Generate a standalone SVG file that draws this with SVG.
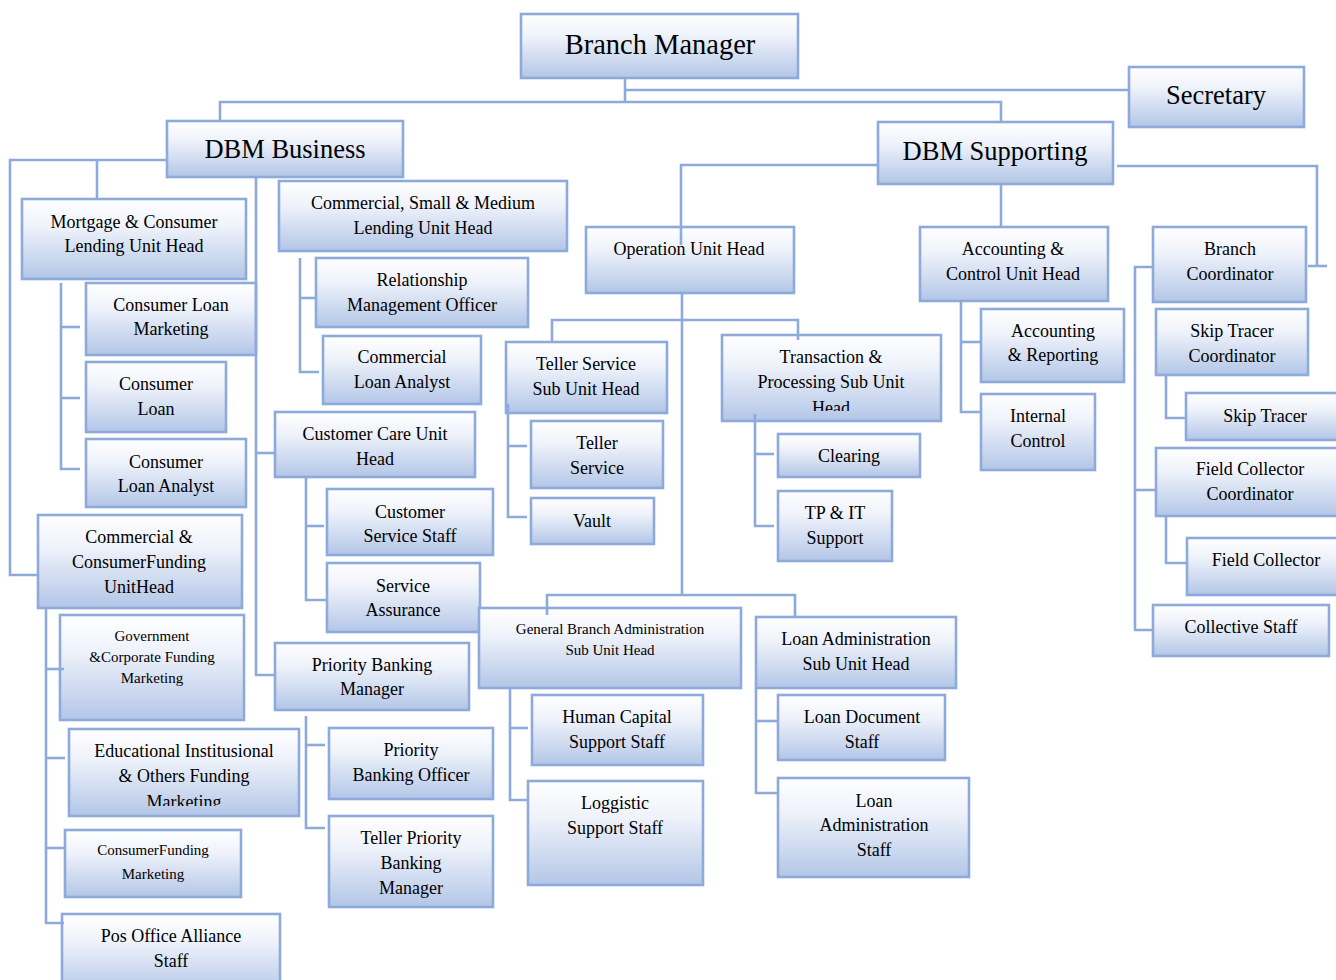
<svg xmlns="http://www.w3.org/2000/svg" width="1336" height="980" viewBox="0 0 1336 980">
<defs>
<linearGradient id="g" x1="0" y1="0" x2="0" y2="1">
<stop offset="0" stop-color="#ffffff"/>
<stop offset="0.35" stop-color="#eef2fa"/>
<stop offset="1" stop-color="#b3c6e7"/>
</linearGradient>
<clipPath id="clipTps"><rect x="722" y="335" width="219" height="76"/></clipPath>
<clipPath id="clipEif"><rect x="69" y="729" width="230" height="77"/></clipPath>
</defs>
<style>
.n rect{fill:url(#g);stroke:#8eaadb;stroke-width:2.6}
.n text{font-family:"Liberation Serif","Times New Roman",serif;font-size:18px;fill:#000;text-anchor:middle;dominant-baseline:central}
.n text.big{font-size:26.5px}
.n text.bm{font-size:28.5px}
.n text.sm{font-size:15px}
#connectors path{fill:none;stroke:#8eaadb;stroke-width:2.6}
</style>
<rect width="1336" height="980" fill="#ffffff"/>

<g id="bm" class="n"><rect x="521" y="14" width="277" height="64"/><text class="bm" x="660" y="44">Branch Manager</text></g>
<g id="sec" class="n"><rect x="1129" y="67" width="175" height="60"/><text class="big" x="1216" y="95">Secretary</text></g>
<g id="dbmb" class="n"><rect x="167" y="121" width="236" height="56"/><text class="big" x="285" y="149">DBM Business</text></g>
<g id="dbms" class="n"><rect x="878" y="122" width="235" height="62"/><text class="big" x="995" y="151">DBM Supporting</text></g>

<g id="mortgage" class="n"><rect x="22" y="199" width="224" height="80"/><text x="134" y="222">Mortgage &amp; Consumer</text><text x="134" y="246">Lending Unit Head</text></g>
<g id="csm" class="n"><rect x="279" y="181" width="288" height="70"/><text x="423" y="203">Commercial, Small &amp; Medium</text><text x="423" y="228">Lending Unit Head</text></g>
<g id="op" class="n"><rect x="586" y="227" width="208" height="66"/><text x="689" y="249">Operation Unit Head</text></g>
<g id="acc" class="n"><rect x="920" y="227" width="188" height="74"/><text x="1013" y="249">Accounting &amp;</text><text x="1013" y="274">Control Unit Head</text></g>
<g id="bc" class="n"><rect x="1153" y="227" width="153" height="75"/><text x="1230" y="249">Branch</text><text x="1230" y="274">Coordinator</text></g>

<g id="clm" class="n"><rect x="86" y="283" width="170" height="72"/><text x="171" y="305">Consumer Loan</text><text x="171" y="329">Marketing</text></g>
<g id="rmo" class="n"><rect x="316" y="258" width="212" height="69"/><text x="422" y="280">Relationship</text><text x="422" y="305">Management Officer</text></g>
<g id="cla" class="n"><rect x="323" y="336" width="158" height="68"/><text x="402" y="357">Commercial</text><text x="402" y="382">Loan Analyst</text></g>
<g id="tss" class="n"><rect x="506" y="342" width="161" height="71"/><text x="586" y="364">Teller Service</text><text x="586" y="389">Sub Unit Head</text></g>
<g id="tps" class="n"><rect x="722" y="335" width="219" height="86"/><g clip-path="url(#clipTps)"><text x="831" y="357">Transaction &amp;</text><text x="831" y="382">Processing Sub Unit</text><text x="831" y="408">Head</text></g></g>
<g id="ar" class="n"><rect x="981" y="309" width="143" height="73"/><text x="1053" y="331">Accounting</text><text x="1053" y="355">&amp; Reporting</text></g>
<g id="stc" class="n"><rect x="1156" y="309" width="152" height="66"/><text x="1232" y="331">Skip Tracer</text><text x="1232" y="356">Coordinator</text></g>

<g id="cl" class="n"><rect x="86" y="362" width="140" height="70"/><text x="156" y="384">Consumer</text><text x="156" y="409">Loan</text></g>
<g id="cla2" class="n"><rect x="86" y="439" width="160" height="68"/><text x="166" y="462">Consumer</text><text x="166" y="486">Loan Analyst</text></g>
<g id="ccu" class="n"><rect x="275" y="412" width="200" height="65"/><text x="375" y="434">Customer Care Unit</text><text x="375" y="459">Head</text></g>
<g id="ts" class="n"><rect x="531" y="421" width="132" height="67"/><text x="597" y="443">Teller</text><text x="597" y="468">Service</text></g>
<g id="clr" class="n"><rect x="778" y="434" width="142" height="43"/><text x="849" y="456">Clearing</text></g>
<g id="ic" class="n"><rect x="981" y="394" width="114" height="76"/><text x="1038" y="416">Internal</text><text x="1038" y="441">Control</text></g>
<g id="st" class="n"><rect x="1186" y="393" width="160" height="47"/><text x="1265" y="416">Skip Tracer</text></g>
<g id="fcc" class="n"><rect x="1156" y="448" width="190" height="68"/><text x="1250" y="469">Field Collector</text><text x="1250" y="494">Coordinator</text></g>

<g id="css" class="n"><rect x="327" y="489" width="166" height="66"/><text x="410" y="512">Customer</text><text x="410" y="536">Service Staff</text></g>
<g id="vault" class="n"><rect x="531" y="498" width="123" height="46"/><text x="592" y="521">Vault</text></g>
<g id="tpit" class="n"><rect x="778" y="491" width="114" height="70"/><text x="835" y="513">TP &amp; IT</text><text x="835" y="538">Support</text></g>
<g id="ccf" class="n"><rect x="38" y="515" width="204" height="93"/><text x="139" y="537">Commercial &amp;</text><text x="139" y="562">ConsumerFunding</text><text x="139" y="587">UnitHead</text></g>
<g id="sa" class="n"><rect x="327" y="563" width="153" height="69"/><text x="403" y="586">Service</text><text x="403" y="610">Assurance</text></g>
<g id="fc" class="n"><rect x="1187" y="538" width="160" height="57"/><text x="1266" y="560">Field Collector</text></g>
<g id="cs" class="n"><rect x="1153" y="605" width="176" height="51"/><text x="1241" y="627">Collective Staff</text></g>

<g id="gcf" class="n"><rect x="60" y="615" width="184" height="105"/><text class="sm" x="152" y="636">Government</text><text class="sm" x="152" y="657">&amp;Corporate Funding</text><text class="sm" x="152" y="678">Marketing</text></g>
<g id="gba" class="n"><rect x="479" y="608" width="262" height="80"/><text class="sm" x="610" y="629">General Branch Administration</text><text class="sm" x="610" y="650">Sub Unit Head</text></g>
<g id="las" class="n"><rect x="756" y="617" width="200" height="71"/><text x="856" y="639">Loan Administration</text><text x="856" y="664">Sub Unit Head</text></g>
<g id="pbm" class="n"><rect x="275" y="643" width="194" height="67"/><text x="372" y="665">Priority Banking</text><text x="372" y="689">Manager</text></g>
<g id="hcs" class="n"><rect x="532" y="695" width="171" height="70"/><text x="617" y="717">Human Capital</text><text x="617" y="742">Support Staff</text></g>
<g id="lds" class="n"><rect x="778" y="695" width="167" height="65"/><text x="862" y="717">Loan Document</text><text x="862" y="742">Staff</text></g>
<g id="eif" class="n"><rect x="69" y="729" width="230" height="87"/><g clip-path="url(#clipEif)"><text x="184" y="751">Educational Institusional</text><text x="184" y="776">&amp; Others Funding</text><text x="184" y="802">Marketing</text></g></g>
<g id="pbo" class="n"><rect x="329" y="728" width="164" height="71"/><text x="411" y="750">Priority</text><text x="411" y="775">Banking Officer</text></g>
<g id="lss" class="n"><rect x="528" y="781" width="175" height="104"/><text x="615" y="803">Loggistic</text><text x="615" y="828">Support Staff</text></g>
<g id="las2" class="n"><rect x="778" y="778" width="191" height="99"/><text x="874" y="801">Loan</text><text x="874" y="825">Administration</text><text x="874" y="850">Staff</text></g>
<g id="cfm" class="n"><rect x="65" y="830" width="176" height="67"/><text class="sm" x="153" y="850">ConsumerFunding</text><text class="sm" x="153" y="874">Marketing</text></g>
<g id="tpbm" class="n"><rect x="329" y="816" width="164" height="91"/><text x="411" y="838">Teller Priority</text><text x="411" y="863">Banking</text><text x="411" y="888">Manager</text></g>
<g id="pos" class="n"><rect x="62" y="914" width="218" height="80"/><text x="171" y="936">Pos Office Alliance</text><text x="171" y="961">Staff</text></g>

<g id="connectors">
<path d="M625,78 V102"/>
<path d="M220,121 V102 H1001 V122"/>
<path d="M625,90 H1129"/>
<path d="M167,160 H10 V575 H38"/>
<path d="M97,160 V199"/>
<path d="M256,177 V675 H275"/>
<path d="M256,453 H275"/>
<path d="M61,283 V469 H80"/>
<path d="M61,327 H80"/>
<path d="M61,398 H80"/>
<path d="M300,258 V372 H319"/>
<path d="M300,298 H316"/>
<path d="M306,477 V600 H327"/>
<path d="M306,526 H324"/>
<path d="M306,716 V828 H325"/>
<path d="M306,745 H325"/>
<path d="M46,608 V923 H64"/>
<path d="M46,669 H64"/>
<path d="M46,758 H65"/>
<path d="M46,848 H64"/>
<path d="M878,165 H681 V245"/>
<path d="M682,293 V595"/>
<path d="M552,342 V320 H798 V340"/>
<path d="M547,615 V595 H795 V617"/>
<path d="M1001,184 V227"/>
<path d="M1117,166 H1317 V266"/>
<path d="M1308,266 H1327"/>
<path d="M508,404 V517 H527"/>
<path d="M508,446 H527"/>
<path d="M755,414 V526 H774"/>
<path d="M755,454 H774"/>
<path d="M961,301 V412 H981"/>
<path d="M961,342 H981"/>
<path d="M1153,267 H1135 V630 H1153"/>
<path d="M1135,490 H1156"/>
<path d="M1166,375 V418 H1186"/>
<path d="M1166,516 V563 H1187"/>
<path d="M756,688 V793 H778"/>
<path d="M756,721 H778"/>
<path d="M510,688 V800 H528"/>
<path d="M510,728 H528"/>
</g>
</svg>
